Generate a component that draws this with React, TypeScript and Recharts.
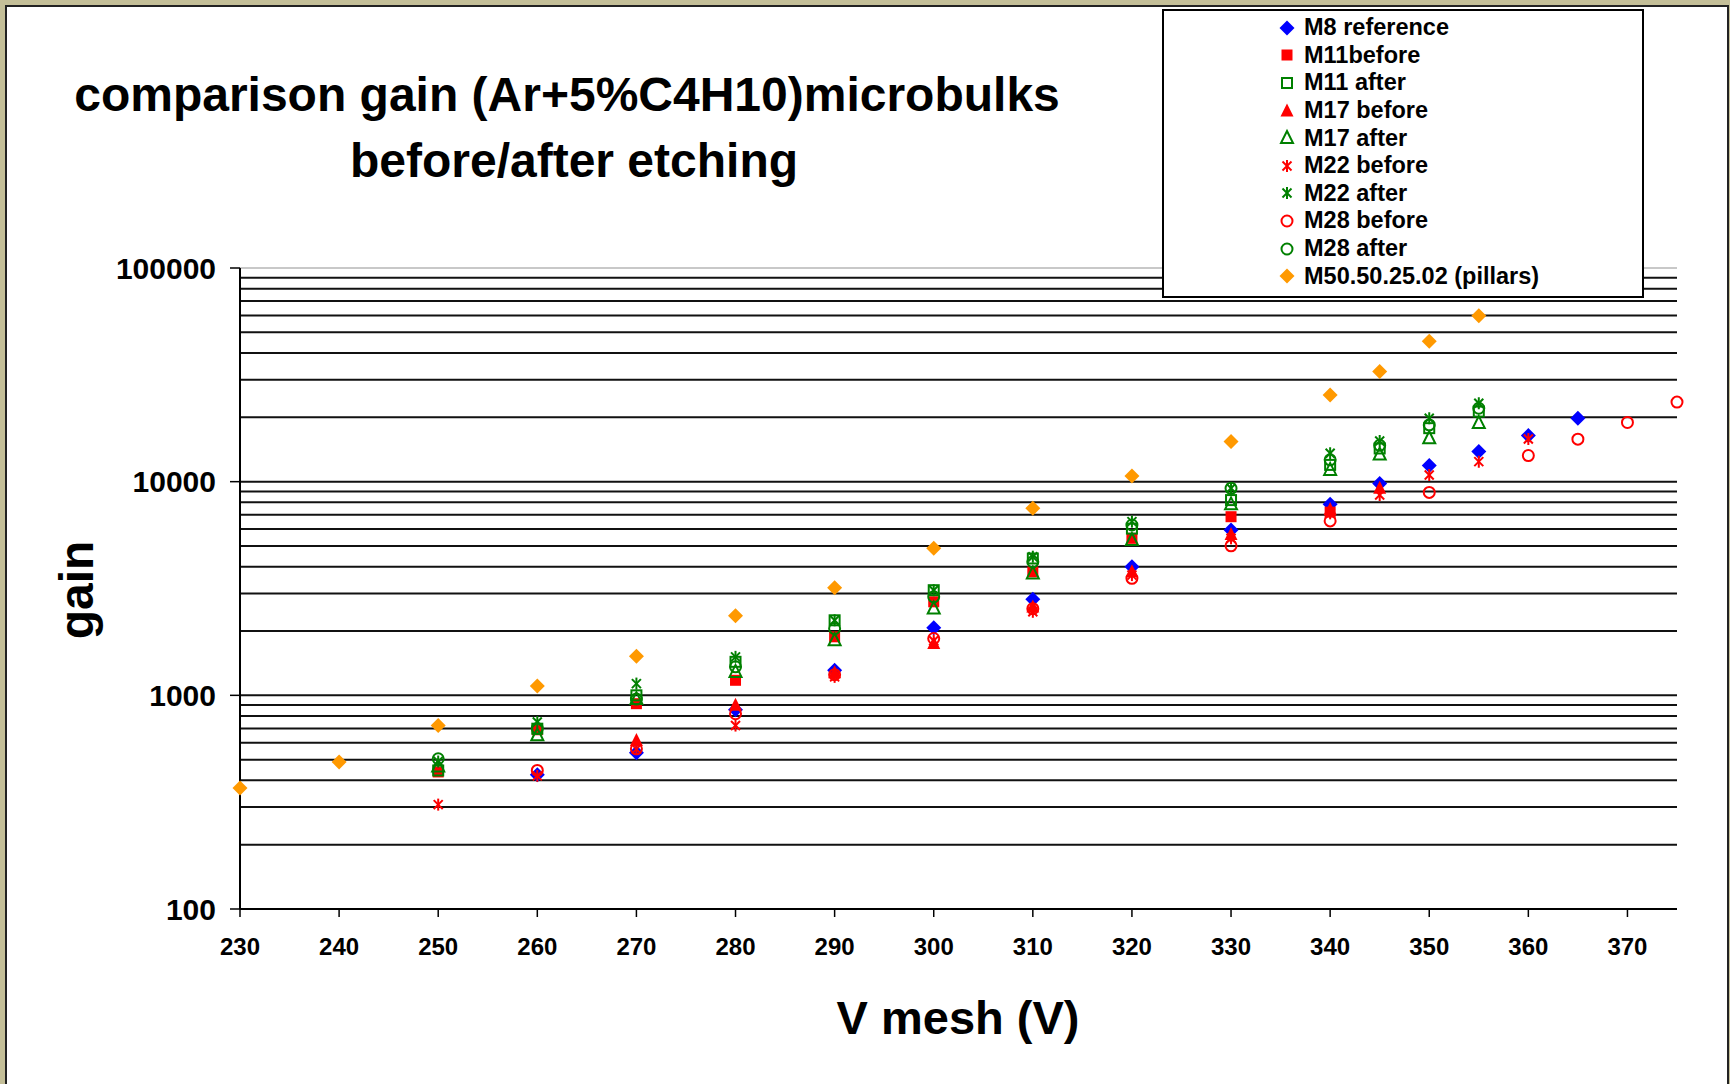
import React from "react";
import {
  ScatterChart,
  Scatter,
  XAxis,
  YAxis,
  ReferenceLine,
  Legend,
} from "recharts";

// voltage steps (V mesh)
const vGreen = [250, 260, 270, 280, 290, 300, 310, 320, 330, 340, 345, 350, 355];
const vM8 = [260, 270, 280, 290, 300, 310, 320, 330, 340, 345, 350, 355, 360, 365];
const vM11b = [250, 260, 270, 280, 290, 300, 310, 320, 330, 340];
const vM17b = [270, 280, 290, 300, 310, 320, 330, 340, 345];
const vM22b = [250, 260, 270, 280, 290, 300, 310, 320, 330, 340, 345, 350, 355, 360];
const vM28b = [260, 270, 280, 290, 300, 310, 320, 330, 340, 350, 360, 365, 370, 375];
const vPillars = [230, 240, 250, 260, 270, 280, 290, 300, 310, 320, 330, 340, 345, 350, 355];

// gains
const gM8 = [425, 538, 857, 1310, 2070, 2818, 4000, 5940, 7830, 9815, 11890, 13840, 16440, 19800];
const gM11b = [438, 690, 914, 1176, 1879, 2740, 3785, 5430, 6855, 7200];
const gM11a = [445, 698, 1000, 1435, 2245, 3105, 4370, 6030, 8200, 11980, 14300, 17800, 21280];
const gM17b = [615, 898, 1275, 1746, 2594, 3785, 5660, 7400, 9310];
const gM17a = [465, 650, 960, 1287, 1811, 2550, 3720, 5335, 7830, 11350, 13400, 15960, 18800];
const gM22b = [308, 420, 560, 722, 1220, 1800, 2460, 3654, 5430, 7110, 8660, 10740, 12410, 15850];
const gM22a = [490, 750, 1135, 1514, 2245, 3105, 4455, 6500, 9310, 13590, 15490, 19800, 23300];
const gM28b = [445, 562, 820, 1250, 1845, 2545, 3527, 5010, 6550, 8910, 13250, 15810, 18930, 23570];
const gM28a = [505, 700, 960, 1360, 2054, 2890, 4217, 6270, 9310, 12650, 14790, 18440, 22060];
const gPillars = [368, 488, 722, 1107, 1524, 2355, 3184, 4875, 7500, 10640, 15420, 25470, 32800, 45400, 59800];

const xTicks = [230, 240, 250, 260, 270, 280, 290, 300, 310, 320, 330, 340, 350, 360, 370];
const yTicks = [100, 1000, 10000, 100000];
const gridLines = [
  200, 300, 400, 500, 600, 700, 800, 900,
  1000, 2000, 3000, 4000, 5000, 6000, 7000, 8000, 9000,
  10000, 20000, 30000, 40000, 50000, 60000, 70000, 80000, 90000,
];

const BLUE = "#0000ff";
const RED = "#ff0000";
const GREEN = "#008000";
const ORANGE = "#ff9900";
const FONT = "'Liberation Sans', Arial, Helvetica, sans-serif";

type Kind = "diamond" | "square" | "squareOpen" | "triangle" | "triangleOpen" | "star" | "circleOpen";

const toPoints = (v: number[], g: number[]) => v.map((x, i) => ({ x, y: g[i] }));

const series: { name: string; kind: Kind; color: string; data: { x: number; y: number }[] }[] = [
  { name: "M8 reference", kind: "diamond", color: BLUE, data: toPoints(vM8, gM8) },
  { name: "M11before", kind: "square", color: RED, data: toPoints(vM11b, gM11b) },
  { name: "M11 after", kind: "squareOpen", color: GREEN, data: toPoints(vGreen, gM11a) },
  { name: "M17 before", kind: "triangle", color: RED, data: toPoints(vM17b, gM17b) },
  { name: "M17 after", kind: "triangleOpen", color: GREEN, data: toPoints(vGreen, gM17a) },
  { name: "M22 before", kind: "star", color: RED, data: toPoints(vM22b, gM22b) },
  { name: "M22 after", kind: "star", color: GREEN, data: toPoints(vGreen, gM22a) },
  { name: "M28 before", kind: "circleOpen", color: RED, data: toPoints(vM28b, gM28b) },
  { name: "M28 after", kind: "circleOpen", color: GREEN, data: toPoints(vGreen, gM28a) },
  { name: "M50.50.25.02 (pillars)", kind: "diamond", color: ORANGE, data: toPoints(vPillars, gPillars) },
];

function Marker({ cx, cy, kind, color }: { cx?: number; cy?: number; kind: Kind; color: string }) {
  if (cx == null || cy == null) return null;
  switch (kind) {
    case "diamond":
      return <polygon points={`${cx},${cy - 7.5} ${cx + 7.5},${cy} ${cx},${cy + 7.5} ${cx - 7.5},${cy}`} fill={color} />;
    case "square":
      return <rect x={cx - 5.5} y={cy - 5.5} width={11} height={11} fill={color} />;
    case "squareOpen":
      return <rect x={cx - 5} y={cy - 5} width={10} height={10} fill="none" stroke={color} strokeWidth={2} />;
    case "triangle":
      return <polygon points={`${cx},${cy - 7.5} ${cx + 6.5},${cy + 5.5} ${cx - 6.5},${cy + 5.5}`} fill={color} />;
    case "triangleOpen":
      return (
        <polygon
          points={`${cx},${cy - 7} ${cx + 6},${cy + 5} ${cx - 6},${cy + 5}`}
          fill="none"
          stroke={color}
          strokeWidth={2}
        />
      );
    case "star":
      return (
        <g stroke={color} strokeWidth={2}>
          <line x1={cx - 4.5} y1={cy - 4.5} x2={cx + 4.5} y2={cy + 4.5} />
          <line x1={cx + 4.5} y1={cy - 4.5} x2={cx - 4.5} y2={cy + 4.5} />
          <line x1={cx} y1={cy - 6} x2={cx} y2={cy + 6} />
        </g>
      );
    case "circleOpen":
      return <circle cx={cx} cy={cy} r={5.5} fill="none" stroke={color} strokeWidth={2} />;
  }
  return null;
}

const LegendBox = () => (
  <div
    style={{
      width: 482,
      height: 289,
      boxSizing: "border-box",
      border: "2px solid #000",
      background: "#fff",
      paddingTop: 3,
      fontFamily: FONT,
    }}
  >
    {series.map((s) => (
      <div key={s.name} style={{ height: 27.6, display: "flex", alignItems: "center" }}>
        <svg width={20} height={20} style={{ marginLeft: 113, marginRight: 7 }}>
          <Marker cx={10} cy={10} kind={s.kind} color={s.color} />
        </svg>
        <span style={{ fontSize: 23.5, fontWeight: "bold", color: "#000", whiteSpace: "nowrap" }}>{s.name}</span>
      </div>
    ))}
  </div>
);

const App: React.FC = () => {
  return (
    <div
      style={{
        position: "fixed",
        left: 0,
        top: 0,
        width: 1730,
        height: 1084,
        background: "#c4bf98",
        overflow: "hidden",
        fontFamily: FONT,
      }}
    >
      <div
        style={{
          position: "absolute",
          left: 5,
          top: 5,
          width: 1724,
          height: 1200,
          boxSizing: "border-box",
          border: "2px solid #222",
          background: "#fff",
        }}
      />
      <div style={{ position: "absolute", left: 0, top: 0 }}>
        <ScatterChart width={1730} height={1084} margin={{ top: 268, right: 53, bottom: 115, left: 0 }}>
          {gridLines.map((v) => (
            <ReferenceLine key={v} y={v} stroke="#111" strokeWidth={2} />
          ))}
          <ReferenceLine y={100000} stroke="#c8c8c8" strokeWidth={2} />
          <XAxis
            type="number"
            dataKey="x"
            domain={[230, 375]}
            ticks={xTicks}
            interval={0}
            height={60}
            axisLine={{ stroke: "#000", strokeWidth: 2 }}
            tickLine={{ stroke: "#000", strokeWidth: 1.5 }}
            tickSize={8}
            tickMargin={21}
            tick={{ fontSize: 24, fontWeight: "bold", fill: "#000", fontFamily: FONT }}
          />
          <YAxis
            type="number"
            dataKey="y"
            scale="log"
            domain={[100, 100000]}
            allowDataOverflow
            ticks={yTicks}
            interval={0}
            width={240}
            tickFormatter={(v: number) => String(v)}
            axisLine={{ stroke: "#000", strokeWidth: 2 }}
            tickLine={{ stroke: "#000", strokeWidth: 1.5 }}
            tickSize={10}
            tickMargin={14}
            tick={{ fontSize: 30, fontWeight: "bold", fill: "#000", fontFamily: FONT }}
          />
          {series.map((s) => (
            <Scatter
              key={s.name}
              name={s.name}
              data={s.data}
              isAnimationActive={false}
              shape={(p: any) => <Marker cx={p.cx} cy={p.cy} kind={s.kind} color={s.color} />}
            />
          ))}
          <Legend
            layout="vertical"
            align="center"
            verticalAlign="middle"
            content={() => <LegendBox />}
            wrapperStyle={{ left: 1162, top: 9, width: 482, height: 289 }}
          />
        </ScatterChart>
      </div>
      <div
        style={{
          position: "absolute",
          left: 567,
          top: 94,
          transform: "translate(-50%, -50%)",
          fontSize: 48,
          fontWeight: "bold",
          whiteSpace: "nowrap",
          color: "#000",
        }}
      >
        comparison gain (Ar+5%C4H10)microbulks
      </div>
      <div
        style={{
          position: "absolute",
          left: 574,
          top: 160,
          transform: "translate(-50%, -50%)",
          fontSize: 48,
          fontWeight: "bold",
          whiteSpace: "nowrap",
          color: "#000",
        }}
      >
        before/after etching
      </div>
      <div
        style={{
          position: "absolute",
          left: 76,
          top: 590,
          transform: "translate(-50%, -50%) rotate(-90deg)",
          fontSize: 48,
          fontWeight: "bold",
          whiteSpace: "nowrap",
          color: "#000",
        }}
      >
        gain
      </div>
      <div
        style={{
          position: "absolute",
          left: 958,
          top: 1017,
          transform: "translate(-50%, -50%)",
          fontSize: 47,
          fontWeight: "bold",
          whiteSpace: "nowrap",
          color: "#000",
        }}
      >
        V mesh (V)
      </div>
    </div>
  );
};

export default App;
